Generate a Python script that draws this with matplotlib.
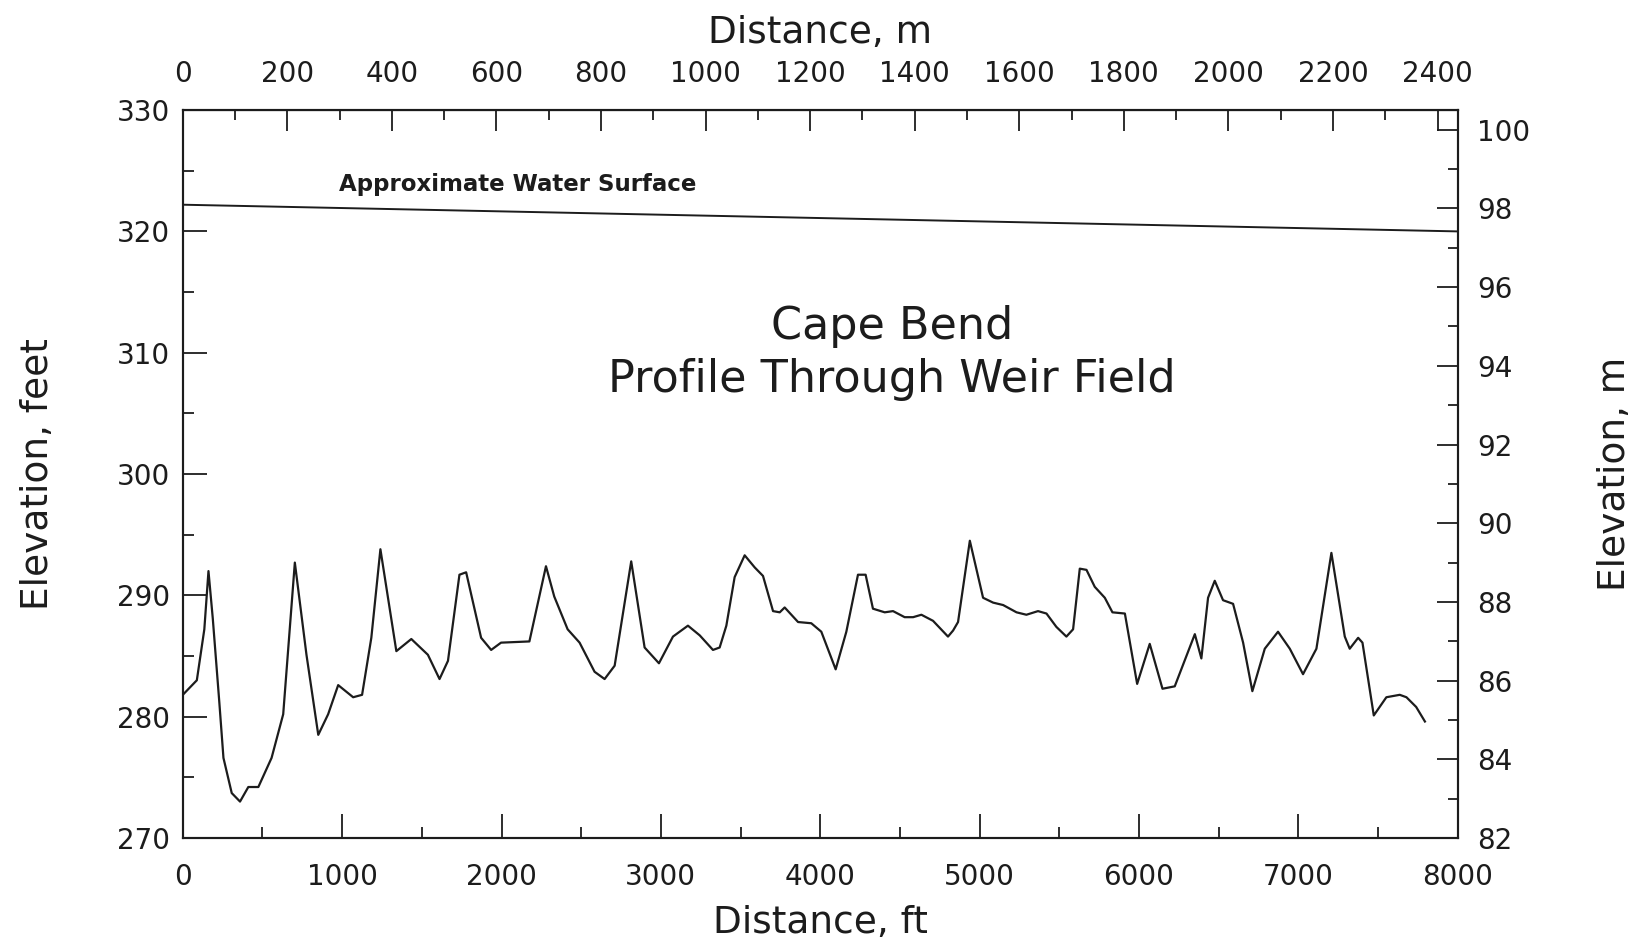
import matplotlib
matplotlib.use("Agg")
import matplotlib.pyplot as plt
from matplotlib.ticker import MultipleLocator

# profile (distance in ft, bed elevation in ft)
dist_ft = [0, 88, 135, 161, 188, 229, 255, 307, 359, 411, 474, 557, 630, 703,
           776, 850, 912, 975, 1069, 1125, 1183, 1240, 1340, 1434, 1538, 1611,
           1664, 1736, 1778, 1872, 1935, 1997, 2175, 2279, 2331, 2415, 2490,
           2584, 2647, 2710, 2814, 2898, 2988, 3076, 3170, 3244, 3327, 3369,
           3411, 3463, 3526, 3589, 3641, 3704, 3746, 3777, 3861, 3944, 4007,
           4097, 4164, 4237, 4285, 4331, 4405, 4457, 4530, 4583, 4635, 4708,
           4802, 4834, 4865, 4939, 5022, 5085, 5148, 5232, 5294, 5367, 5420,
           5482, 5545, 5587, 5629, 5671, 5723, 5786, 5834, 5912, 5989, 6068,
           6148, 6225, 6351, 6392, 6434, 6476, 6528, 6591, 6654, 6712, 6790,
           6873, 6947, 7030, 7114, 7208, 7292, 7323, 7376, 7403, 7474, 7553,
           7637, 7679, 7740, 7795]
elev_ft = [281.8, 283.0, 287.2, 292.0, 288.1, 281.2, 276.6, 273.7, 273.0,
           274.2, 274.2, 276.6, 280.2, 292.7, 285.1, 278.5, 280.2, 282.6,
           281.6, 281.8, 286.5, 293.8, 285.4, 286.4, 285.1, 283.1, 284.6,
           291.7, 291.9, 286.5, 285.5, 286.1, 286.2, 292.4, 289.9, 287.2,
           286.1, 283.7, 283.1, 284.2, 292.8, 285.7, 284.4, 286.6, 287.5,
           286.7, 285.5, 285.7, 287.5, 291.5, 293.3, 292.3, 291.6, 288.7,
           288.6, 289.0, 287.8, 287.7, 287.0, 283.9, 287.0, 291.7, 291.7,
           288.9, 288.6, 288.7, 288.2, 288.2, 288.4, 287.9, 286.6, 287.1,
           287.8, 294.5, 289.8, 289.4, 289.2, 288.6, 288.4, 288.7, 288.5,
           287.4, 286.6, 287.2, 292.2, 292.1, 290.7, 289.8, 288.6, 288.5,
           282.7, 286.0, 282.3, 282.5, 286.8, 284.8, 289.8, 291.2, 289.6,
           289.3, 286.1, 282.1, 285.6, 287.0, 285.6, 283.5, 285.6, 293.5,
           286.6, 285.6, 286.5, 286.1, 280.1, 281.6, 281.8, 281.6, 280.8,
           279.6]

water_ft = [0, 8000]
water_elev = [322.2, 320.0]

FT2M = 0.3048
ink = "#1c1c1c"
plt.rcParams["font.family"] = ["DejaVu Sans"]

fig = plt.figure(figsize=(16.47, 9.49), dpi=100)
ax = fig.add_axes([0.111, 0.117, 0.774, 0.767])

ax.plot(dist_ft, elev_ft, color=ink, lw=1.6)
ax.plot(water_ft, water_elev, color=ink, lw=1.4)

ax.text(2100, 323.9, "Approximate Water Surface", ha="center", va="center",
        fontsize=16.5, color=ink, fontweight="bold")
ax.text(4450, 310.0, "Cape Bend\nProfile Through Weir Field", ha="center",
        va="center", fontsize=32, color=ink, linespacing=1.3)

ax.set_xlim(0, 8000)
ax.set_ylim(270, 330)
ax.xaxis.set_major_locator(MultipleLocator(1000))
ax.xaxis.set_minor_locator(MultipleLocator(500))
ax.yaxis.set_major_locator(MultipleLocator(10))
ax.yaxis.set_minor_locator(MultipleLocator(5))
ax.tick_params(which="both", direction="in", colors=ink, width=1.3)
ax.tick_params(which="major", length=17, labelsize=20)
ax.tick_params(which="minor", length=8)
ax.tick_params(axis="x", pad=18)
ax.tick_params(axis="y", pad=9)
for s in ax.spines.values():
    s.set_linewidth(1.5)
    s.set_color(ink)
ax.set_xlabel("Distance, ft", fontsize=27, color=ink, labelpad=10)
ax.set_ylabel("Elevation, feet", fontsize=27, color=ink, labelpad=44)

# top axis: distance in metres
top = ax.secondary_xaxis("top", functions=(lambda x: x * FT2M, lambda m: m / FT2M))
top.xaxis.set_major_locator(MultipleLocator(200))
top.xaxis.set_minor_locator(MultipleLocator(100))
top.tick_params(which="both", direction="in", colors=ink, width=1.3)
top.tick_params(which="major", length=15, labelsize=20, pad=16)
top.tick_params(which="minor", length=7)
top.set_xlabel("Distance, m", fontsize=27, color=ink, labelpad=12)

# right axis: elevation in metres
rax = ax.twinx()
rax.set_ylim(82, 100.5)
rax.yaxis.set_major_locator(MultipleLocator(2))
rax.yaxis.set_minor_locator(MultipleLocator(1))
rax.tick_params(which="both", direction="in", colors=ink, width=1.3)
rax.tick_params(which="major", length=15, labelsize=20, pad=14)
rax.tick_params(which="minor", length=7)
rax.set_ylabel("Elevation, m", fontsize=27, color=ink, labelpad=48)
for s in rax.spines.values():
    s.set_linewidth(1.5)
    s.set_color(ink)

fig.savefig("out.png", dpi=100, facecolor="white")
